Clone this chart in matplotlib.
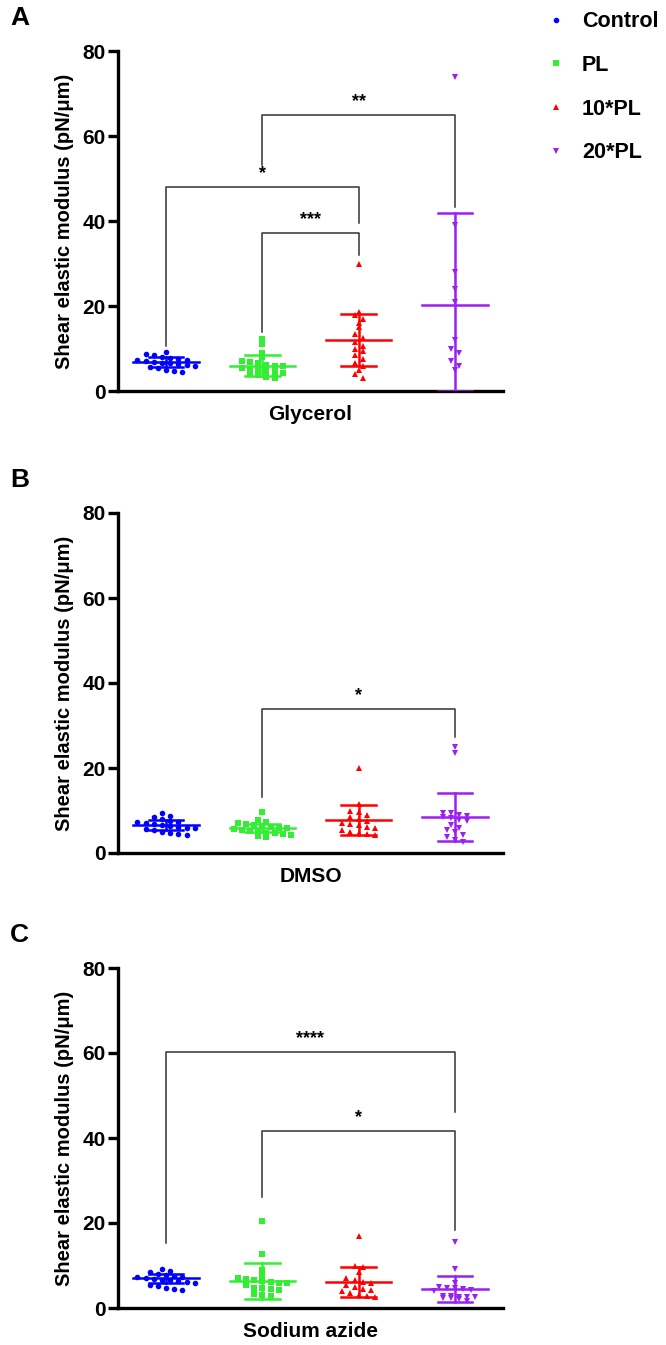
import numpy as np
import matplotlib
matplotlib.use('Agg')
import matplotlib.pyplot as plt
from matplotlib.lines import Line2D

plt.rcParams['font.family'] = ['Liberation Sans', 'DejaVu Sans']
plt.rcParams['font.weight'] = 'bold'

groups = ['Control', 'PL', '10*PL', '20*PL']
colors = ['#0000ff', '#33ee33', '#ff0000', '#9b1ff0']
markers = ['o', 's', '^', 'v']
treatments = ['Glycerol', 'DMSO', 'Sodium azide']
panel_letters = ['A', 'B', 'C']

# --- Glycerol ---
gly_control = [9.2, 8.7, 8.5, 8.1, 7.8, 7.6, 7.4, 7.2, 7.0, 6.9, 6.7, 6.5, 6.3, 6.1, 5.9, 5.6, 5.3, 5.0, 4.8, 4.5]
gly_pl = [12.3, 11.0, 9.0, 8.0, 7.0, 6.8, 6.5, 6.2, 6.0, 5.8, 5.5, 5.2, 5.0, 4.8, 4.5, 4.2, 4.0, 3.7, 3.4, 3.0]
gly_10pl = [30.0, 18.5, 17.8, 17.0, 16.0, 15.0, 13.5, 12.5, 11.5, 10.5, 10.0, 9.5, 8.5, 7.5, 6.5, 6.0, 5.0, 4.0, 3.0]
gly_20pl = [74.0, 39.0, 28.0, 24.0, 21.0, 12.0, 10.0, 9.0, 7.0, 6.0, 5.0]
gly_mean = [6.8, 6.0, 12.0, 20.2]
gly_sd = [1.2, 2.4, 6.2, 21.7]

# --- DMSO ---
dmso_control = [9.4, 8.8, 8.4, 8.0, 7.6, 7.4, 7.2, 7.0, 6.8, 6.6, 6.4, 6.2, 6.0, 5.8, 5.6, 5.3, 5.0, 4.7, 4.4, 4.2]
dmso_pl = [9.6, 7.8, 7.4, 7.0, 6.8, 6.6, 6.4, 6.2, 6.0, 5.8, 5.6, 5.4, 5.2, 5.0, 4.8, 4.6, 4.4, 4.2, 4.0, 3.8]
dmso_10pl = [20.0, 11.5, 10.0, 9.6, 9.0, 8.5, 8.0, 7.6, 7.0, 6.8, 6.5, 6.2, 6.0, 5.5, 5.0, 4.8, 4.5, 4.3]
dmso_20pl = [25.0, 23.5, 9.5, 9.3, 9.0, 8.8, 8.5, 8.3, 7.8, 7.5, 6.5, 6.0, 5.5, 5.0, 4.2, 3.8, 3.0, 2.5]
dmso_mean = [6.6, 5.9, 7.8, 8.5]
dmso_sd = [1.1, 1.0, 3.5, 5.6]

# --- Sodium azide ---
az_control = [9.2, 8.8, 8.4, 8.0, 7.8, 7.6, 7.4, 7.2, 7.0, 6.9, 6.7, 6.5, 6.3, 6.1, 5.8, 5.5, 5.2, 4.8, 4.5, 4.2]
az_pl = [20.5, 12.7, 9.0, 7.5, 7.0, 6.8, 6.6, 6.4, 6.2, 6.0, 5.8, 5.5, 4.8, 4.6, 4.4, 4.2, 3.2, 3.0, 2.8]
az_10pl = [17.0, 10.0, 9.6, 8.5, 7.0, 6.5, 6.2, 5.8, 5.5, 5.0, 4.5, 4.2, 4.0, 3.5, 3.0, 2.8, 2.5]
az_20pl = [15.5, 9.2, 6.0, 5.0, 4.8, 4.6, 4.4, 4.2, 4.0, 2.9, 2.8, 2.7, 2.6, 2.5, 2.4, 2.3, 2.2, 1.6]
az_mean = [7.0, 6.3, 6.1, 4.5]
az_sd = [1.0, 4.2, 3.5, 3.1]

panel_data = [
    [gly_control, gly_pl, gly_10pl, gly_20pl],
    [dmso_control, dmso_pl, dmso_10pl, dmso_20pl],
    [az_control, az_pl, az_10pl, az_20pl],
]
panel_mean = [gly_mean, dmso_mean, az_mean]
panel_sd = [gly_sd, dmso_sd, az_sd]

# significance brackets: (group1, group2, top, leg1 bottom, leg2 bottom, label)
gly_brackets = [(0, 2, 48.0, 10.5, 39.5, '*'),
                (1, 3, 65.0, 53.2, 43.3, '**'),
                (1, 2, 37.2, 14.0, 32.0, '***')]
dmso_brackets = [(1, 3, 33.9, 13.2, 27.4, '*')]
az_brackets = [(0, 3, 60.2, 15.3, 46.1, '****'),
               (1, 3, 41.6, 26.1, 18.4, '*')]
panel_brackets = [gly_brackets, dmso_brackets, az_brackets]


def spread(vals, step=1.6, gap=0.085):
    # column-scatter layout: points of similar value share a row
    vals = np.asarray(vals, dtype=float)
    bins = np.round(vals / step)
    offs = np.zeros(len(vals))
    for b in np.unique(bins):
        idx = np.where(bins == b)[0]
        n = len(idx)
        offs[idx] = (np.arange(n) - (n - 1) / 2) * gap
    return offs


W, H = 666, 1345
fig = plt.figure(figsize=(W / 100, H / 100), dpi=100)

bottoms_px = [391, 853, 1308]
ax_h = 340
for p in range(3):
    ax = fig.add_axes([118 / W, 1 - bottoms_px[p] / H, 385 / W, ax_h / H])
    for g in range(4):
        vals = panel_data[p][g]
        x = g + spread(vals)
        ax.plot(x, vals, linestyle='none', marker=markers[g], color=colors[g],
                markersize=4, markeredgewidth=0, clip_on=False, zorder=3)
        m, s = panel_mean[p][g], panel_sd[p][g]
        lo = max(m - s, 0)
        ax.plot([g, g], [lo, m + s], color=colors[g], lw=1.8, zorder=4)
        ax.plot([g - 0.34, g + 0.34], [m, m], color=colors[g], lw=1.8, zorder=4)
        ax.plot([g - 0.18, g + 0.18], [m + s, m + s], color=colors[g], lw=1.8, zorder=4)
        ax.plot([g - 0.18, g + 0.18], [lo, lo], color=colors[g], lw=1.8, zorder=4)

    for g1, g2, top, b1, b2, lab in panel_brackets[p]:
        ax.plot([g1, g1, g2, g2], [b1, top, top, b2], color='#333333', lw=1.1, zorder=2)
        ax.text((g1 + g2) / 2, top + 1.2, lab, ha='center', va='bottom',
                fontsize=13, fontweight='bold')

    ax.set_xlim(-0.5, 3.5)
    ax.set_ylim(0, 80)
    ax.set_yticks([0, 20, 40, 60, 80])
    ax.set_xticks([])
    for side in ['top', 'right']:
        ax.spines[side].set_visible(False)
    for side in ['left', 'bottom']:
        ax.spines[side].set_linewidth(2.4)
    ax.tick_params(axis='y', length=7, width=2.4, labelsize=15, pad=2)
    ax.set_ylabel('Shear elastic modulus (pN/μm)', fontsize=14.5, fontweight='bold', labelpad=6)
    ax.set_xlabel(treatments[p], fontsize=15, fontweight='bold', labelpad=10)
    fig.text(10 / W, 1 - (bottoms_px[p] - ax_h - 33) / H, panel_letters[p],
             fontsize=19, fontweight='bold', va='center', ha='left')

handles = [Line2D([], [], linestyle='none', marker=markers[g], color=colors[g],
                  markersize=4, markeredgewidth=0) for g in range(4)]
fig.legend(handles, groups, loc='upper left', bbox_to_anchor=(528 / W, 1 + 8 / H),
           frameon=False, handlelength=0.8, handletextpad=0.8, labelspacing=1.05,
           prop={'size': 15.5, 'weight': 'bold'})

fig.savefig('out.png', dpi=100)
